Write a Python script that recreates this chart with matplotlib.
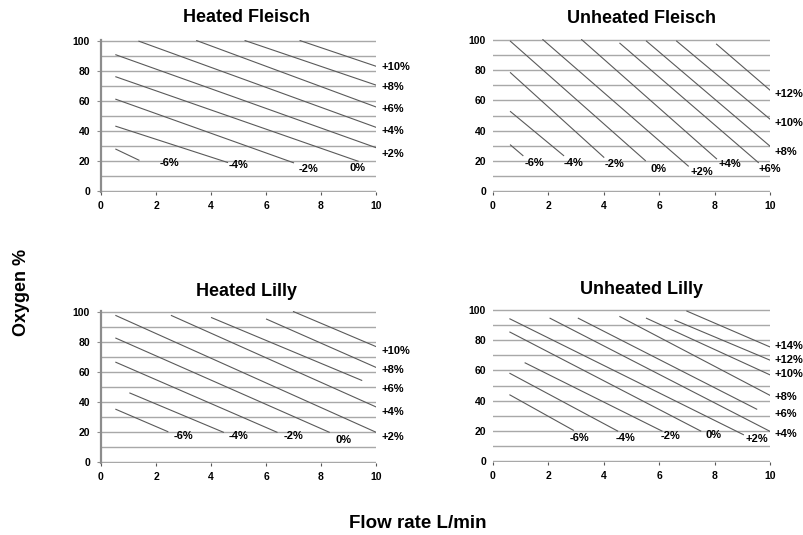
import numpy as np
import matplotlib
matplotlib.use("Agg")
import matplotlib.pyplot as plt

plt.rcParams["font.family"] = ["Liberation Sans", "DejaVu Sans"]
plt.rcParams["font.weight"] = "bold"

# --- donnees : chaque isoligne = point de depart -> point d'arrivee ---
# Heated Fleisch
hf_labels = ["-6%", "-4%", "-2%", "0%", "+2%", "+4%", "+6%", "+8%", "+10%"]
hf_x0 = [0.54, 0.54, 0.54, 0.54, 0.54, 1.38, 3.48, 5.24, 7.24]
hf_y0 = [28.0, 43.2, 61.1, 76.0, 90.6, 99.6, 100.0, 100.0, 100.0]
hf_x1 = [1.38, 4.6, 7.0, 9.35, 10.0, 10.0, 10.0, 10.0, 10.0]
hf_y1 = [20.7, 19.2, 19.0, 20.0, 29.0, 42.5, 56.0, 70.5, 83.0]
hf_lx = [2.5, 5.0, 7.54, 9.33, 10.2, 10.2, 10.2, 10.2, 10.2]
hf_ly = [18.6, 17.5, 14.7, 15.8, 25.0, 40.3, 54.7, 69.0, 82.5]

# Unheated Fleisch
uf_labels = ["-6%", "-4%", "-2%", "0%", "+2%", "+4%", "+6%", "+8%", "+10%", "+12%"]
uf_x0 = [0.63, 0.63, 0.63, 0.63, 1.8, 3.2, 4.58, 5.54, 6.63, 8.07]
uf_y0 = [30.6, 52.6, 78.2, 98.9, 100.0, 100.0, 97.6, 99.0, 99.0, 97.0]
uf_x1 = [1.08, 2.55, 4.0, 5.5, 7.05, 8.07, 9.58, 10.0, 10.0, 10.0]
uf_y1 = [23.6, 23.6, 22.5, 20.3, 16.7, 21.5, 19.0, 29.8, 47.6, 66.7]
uf_lx = [1.5, 2.9, 4.4, 5.96, 7.53, 8.55, 10.0, 10.15, 10.15, 10.15]
uf_ly = [18.5, 18.9, 17.8, 15.0, 13.0, 17.8, 14.6, 25.9, 45.0, 64.0]

# Heated Lilly
hl_labels = ["-6%", "-4%", "-2%", "0%", "+2%", "+4%", "+6%", "+8%", "+10%"]
hl_x0 = [0.54, 1.05, 0.54, 0.54, 0.54, 2.56, 4.02, 6.02, 7.0]
hl_y0 = [35.2, 46.0, 66.4, 82.4, 97.4, 97.4, 96.0, 95.0, 100.0]
hl_x1 = [2.43, 4.45, 6.4, 8.3, 10.0, 10.0, 9.48, 10.0, 10.0]
hl_y1 = [20.4, 20.0, 20.0, 20.0, 20.0, 36.8, 54.4, 63.0, 76.8]
hl_lx = [3.0, 5.0, 7.0, 8.8, 10.2, 10.2, 10.2, 10.2, 10.2]
hl_ly = [17.8, 17.8, 17.8, 14.9, 17.1, 33.5, 49.0, 61.6, 74.0]

# Unheated Lilly
ul_labels = ["-6%", "-4%", "-2%", "0%", "+2%", "+4%", "+6%", "+8%", "+10%", "+12%", "+14%"]
ul_x0 = [0.61, 0.61, 1.16, 0.61, 0.61, 2.06, 3.08, 4.58, 5.54, 6.57, 7.0]
ul_y0 = [43.8, 58.0, 64.9, 85.2, 93.9, 94.3, 94.3, 95.4, 94.3, 93.0, 99.0]
ul_x1 = [2.9, 4.5, 6.1, 7.5, 9.04, 10.0, 9.52, 10.0, 10.0, 10.0, 10.0]
ul_y1 = [20.5, 20.0, 20.0, 20.0, 17.6, 19.8, 34.4, 43.5, 57.0, 66.7, 75.4]
ul_lx = [3.13, 4.8, 6.39, 7.95, 9.52, 10.18, 10.18, 10.18, 10.18, 10.18, 10.18]
ul_ly = [15.7, 15.7, 16.5, 17.6, 14.8, 18.1, 31.2, 42.7, 57.6, 66.7, 75.9]

x_ticks = [0, 2, 4, 6, 8, 10]
y_ticks = [0, 20, 40, 60, 80, 100]
y_minor = [10, 30, 50, 70, 90]

W, H = 804, 535
fig = plt.figure(figsize=(W / 100, H / 100), dpi=100)


def px_axes(left, right, top, bottom):
    return fig.add_axes([left / W, 1 - bottom / H, (right - left) / W, (bottom - top) / H])


panneaux = [
    ("Heated Fleisch", (101, 376, 40, 192), (246.7, 18), True,
     hf_labels, hf_x0, hf_y0, hf_x1, hf_y1, hf_lx, hf_ly),
    ("Unheated Fleisch", (493, 770, 39, 192), (641.7, 18.5), False,
     uf_labels, uf_x0, uf_y0, uf_x1, uf_y1, uf_lx, uf_ly),
    ("Heated Lilly", (101, 376, 311, 463), (246.7, 291), True,
     hl_labels, hl_x0, hl_y0, hl_x1, hl_y1, hl_lx, hl_ly),
    ("Unheated Lilly", (493, 770, 309, 462), (641.7, 290), False,
     ul_labels, ul_x0, ul_y0, ul_x1, ul_y1, ul_lx, ul_ly),
]

for (titre, box, tpos, chauffe, labs, x0, y0, x1, y1, lx, ly) in panneaux:
    ax = px_axes(*box)
    ax.set_xlim(0, 10)
    ax.set_ylim(-0.4, 100.4)
    ax.set_xticks(x_ticks)
    ax.set_yticks(y_ticks)
    ax.set_yticks(y_minor, minor=True)
    ax.grid(True, axis="y", which="both", color="#a8a8a8", lw=1.0)
    ax.set_axisbelow(True)
    for s in ["top", "right", "bottom"]:
        ax.spines[s].set_visible(False)
    if chauffe:
        ax.spines["left"].set_color("#8c8c8c")
        ax.spines["left"].set_linewidth(1.6)
        ax.tick_params(axis="y", which="major", length=3, color="#8c8c8c", pad=5)
    else:
        ax.spines["left"].set_visible(False)
        ax.tick_params(axis="y", which="major", length=0, pad=5)
    ax.tick_params(axis="y", which="minor", length=0)
    ax.tick_params(axis="x", length=2.5, color="#555555", pad=4)
    for lab in ax.get_xticklabels() + ax.get_yticklabels():
        lab.set_fontsize(7.5)
        lab.set_fontweight("bold")

    for i in range(len(labs)):
        ax.plot([x0[i], x1[i]], [y0[i], y1[i]], color="#5a5a5a", lw=0.8)
        ha = "left" if lx[i] > 10.05 else "center"
        ax.text(lx[i], ly[i], labs[i], ha=ha, va="center", fontsize=8,
                fontweight="bold", clip_on=False)

    fig.text(tpos[0] / W, 1 - tpos[1] / H, titre, ha="center", va="center",
             fontsize=13, fontweight="bold")

fig.text(22 / W, 1 - 292 / H, "Oxygen %", rotation=90, ha="center", va="center",
         fontsize=13, fontweight="bold")
fig.text(418 / W, 1 - 523 / H, "Flow rate L/min", ha="center", va="center",
         fontsize=13.5, fontweight="bold")

fig.savefig("out.png", dpi=100)
